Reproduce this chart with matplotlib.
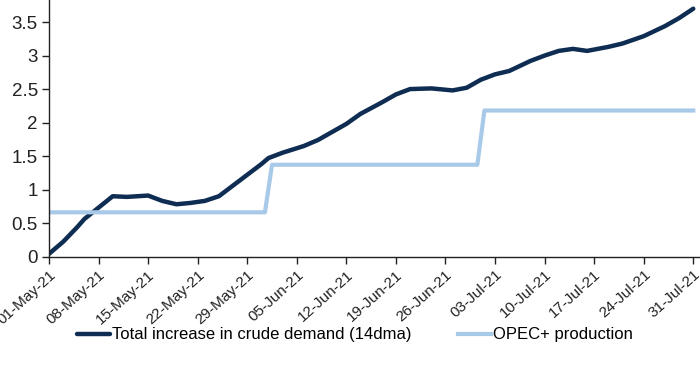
import pandas as pd
import matplotlib.pyplot as plt
import matplotlib.dates as mdates

# Data (mb/d)
demand_dates = ["2021-05-01", "2021-05-03", "2021-05-05", "2021-05-06", "2021-05-08",
                "2021-05-10", "2021-05-12", "2021-05-15", "2021-05-17", "2021-05-19",
                "2021-05-21", "2021-05-23", "2021-05-25", "2021-05-27", "2021-05-29",
                "2021-05-31", "2021-06-01", "2021-06-03", "2021-06-06", "2021-06-08",
                "2021-06-10", "2021-06-12", "2021-06-14", "2021-06-17", "2021-06-19",
                "2021-06-21", "2021-06-24", "2021-06-27", "2021-06-29", "2021-07-01",
                "2021-07-03", "2021-07-05", "2021-07-08", "2021-07-10", "2021-07-12",
                "2021-07-14", "2021-07-16", "2021-07-19", "2021-07-21", "2021-07-24",
                "2021-07-27", "2021-07-29", "2021-07-31"]
demand = [0.04, 0.22, 0.44, 0.56, 0.73,
          0.90, 0.89, 0.91, 0.83, 0.78,
          0.80, 0.83, 0.90, 1.06, 1.22,
          1.38, 1.47, 1.55, 1.65, 1.74,
          1.86, 1.98, 2.13, 2.30, 2.42,
          2.50, 2.51, 2.48, 2.52, 2.64,
          2.72, 2.77, 2.92, 3.00, 3.07,
          3.10, 3.07, 3.13, 3.18, 3.29,
          3.44, 3.56, 3.70]

opec_dates = ["2021-05-01 00:00", "2021-05-31 12:00", "2021-06-01 12:00",
              "2021-06-30 12:00", "2021-07-01 12:00", "2021-07-31 00:00"]
opec = [0.66, 0.66, 1.37, 1.37, 2.18, 2.18]

tick_dates = pd.date_range("2021-05-01", "2021-07-31", freq="7D")

plt.rcParams['font.family'] = ['Liberation Sans', 'DejaVu Sans']

fig = plt.figure(figsize=(7, 3.7), dpi=100)
ax = fig.add_axes([49 / 700, 113.5 / 370, 651 / 700, 256.5 / 370])

ax.plot(pd.to_datetime(demand_dates), demand, color="#0f2d52", lw=3.2,
        solid_capstyle="round", label="Total increase in crude demand (14dma)")
ax.plot(pd.to_datetime(opec_dates, format="%Y-%m-%d %H:%M"), opec, color="#a8cae8", lw=3,
        label="OPEC+ production")

ax.set_xlim(pd.Timestamp("2021-05-01"), pd.Timestamp("2021-05-01") + pd.Timedelta(days=91.95))
ax.set_ylim(0, 3.83)
ax.set_yticks([0, 0.5, 1, 1.5, 2, 2.5, 3, 3.5])
ax.set_yticklabels(["0", "0.5", "1", "1.5", "2", "2.5", "3", "3.5"])
ax.set_xticks(tick_dates)
ax.xaxis.set_major_formatter(mdates.DateFormatter("%d-%b-%y"))
plt.setp(ax.get_xticklabels(), rotation=42, ha="right", rotation_mode="anchor")

ax.tick_params(axis="both", direction="out", length=5, width=1, colors="#222222",
               labelcolor="#222222")
ax.tick_params(axis="y", labelsize=13.5, pad=3)
ax.tick_params(axis="x", labelsize=11, pad=3)
for s in ["top", "right"]:
    ax.spines[s].set_visible(False)
for s in ["left", "bottom"]:
    ax.spines[s].set_color("#222222")
    ax.spines[s].set_linewidth(1)

fig.legend(loc="center", bbox_to_anchor=(0.507, 0.095), ncol=2, frameon=False,
           fontsize=12, handlelength=2.0, handletextpad=0.1, columnspacing=2.8)

plt.savefig("out.png", dpi=100)
